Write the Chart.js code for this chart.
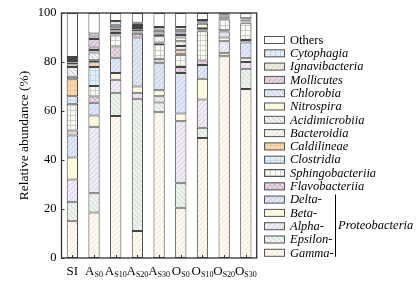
<!DOCTYPE html>
<html>
<head>
<meta charset="utf-8">
<script src="https://cdn.jsdelivr.net/npm/chart.js@4.4.0/dist/chart.umd.min.js"></script>
<style>
  html, body { margin: 0; padding: 0; background: #fff; }
</style>
</head>
<body>
<canvas id="c" width="420" height="283"></canvas>
<script>
// sample labels: main letter + subscript
const catMain = ['SI', 'A', 'A', 'A', 'A', 'O', 'O', 'O', 'O'];
const catSub  = ['', 'S0', 'S10', 'S20', 'S30', 'S0', 'S10', 'S20', 'S30'];

// relative abundance (%), bottom of the stack first
const gamma   = [15, 18.6, 58, 11, 59.5, 20.5, 49, 82.3, 69];
const epsilon = [8, 7.8, 9.5, 54, 4, 10, 4.2, 1.5, 8.2];
const alpha   = [9, 27.2, 5.3, 2.5, 2.5, 25.3, 11.5, 4.7, 2.8];
const beta    = [9, 4.6, 2.7, 2.5, 2.5, 3.2, 8.5, 1.5, 1.5];
const delta   = [9, 5.2, 6.2, 20, 11, 16.5, 5.6, 2.4, 6.5];
const flavo   = [2, 2.5, 4.6, 1.5, 1.8, 2.5, 1.8, 0.6, 1];
const sphingo = [11, 4.3, 4.5, 0.5, 6, 5, 12, 4.4, 6.8];
const clostr  = [3, 7.8, 0.3, 0.3, 0.4, 0.4, 0.3, 0.2, 0.2];
const caldil  = [7, 1.9, 0.2, 0.2, 0.3, 1.6, 0.3, 0.2, 0.2];
const bactero = [1, 0.8, 0.5, 0.6, 2.5, 1.5, 0.3, 0.3, 0.2];
const acidim  = [4, 3.2, 0.6, 0.3, 0.5, 2, 0.5, 0.3, 0.2];
const nitros  = [1, 1, 0.5, 0.5, 0.3, 1.5, 1.6, 0.2, 0.2];
const chlorob = [0.8, 1, 0.8, 0.8, 0.3, 1, 0.5, 0.4, 0.4];
const mollic  = [0.6, 3.5, 0.5, 0.4, 1.2, 1, 0.3, 0.3, 0.2];
const ignav   = [0.8, 1, 1, 0.5, 0.5, 1, 0.3, 0.3, 0.2];
const cytoph  = [0.8, 1.2, 1.5, 0.4, 1, 1.3, 0.4, 0.3, 0.3];
const others  = [18, 8.4, 3.3, 4, 5.7, 5.7, 2.9, 0.1, 2.1];

const yTicks = [0, 20, 40, 60, 80, 100];

const serif = "'Liberation Serif', 'Times New Roman', serif";

// small repeating hatch tiles
function hatch(base, line, kind) {
    const s = 5;
    const c = document.createElement('canvas');
    c.width = s; c.height = s;
    const g = c.getContext('2d');
    g.fillStyle = base;
    g.fillRect(0, 0, s, s);
    g.strokeStyle = line;
    g.lineWidth = 0.8;
    g.beginPath();
    if (kind === '/' || kind === 'x') {
        g.moveTo(-1, s + 1); g.lineTo(s + 1, -1);
        g.moveTo(-1, 1); g.lineTo(1, -1);
        g.moveTo(s - 1, s + 1); g.lineTo(s + 1, s - 1);
    }
    if (kind === '\\' || kind === 'x') {
        g.moveTo(-1, -1); g.lineTo(s + 1, s + 1);
        g.moveTo(s - 1, -1); g.lineTo(s + 1, 1);
        g.moveTo(-1, s - 1); g.lineTo(1, s + 1);
    }
    if (kind === '+') {
        g.moveTo(0.5, 0); g.lineTo(0.5, s);
        g.moveTo(0, 0.5); g.lineTo(s, 0.5);
    }
    if (kind === '|') {
        g.moveTo(0.5, 0); g.lineTo(0.5, s);
    }
    g.stroke();
    return g.createPattern(c, 'repeat');
}

const series = [
    { name: 'Gamma-',           data: gamma,   fill: hatch('#fdf8f0', '#efe0c6', '/') },
    { name: 'Epsilon-',         data: epsilon, fill: hatch('#ecf3ec', '#c4d4c8', '\\') },
    { name: 'Alpha-',           data: alpha,   fill: hatch('#f1ebf6', '#cdc0e2', '/') },
    { name: 'Beta-',            data: beta,    fill: '#fcf9de' },
    { name: 'Delta-',           data: delta,   fill: hatch('#dfe7f6', '#b7c6e5', '/') },
    { name: 'Flavobacteriia',   data: flavo,   fill: hatch('#ead8e7', '#c6a6c2', 'x') },
    { name: 'Sphingobacteriia', data: sphingo, fill: hatch('#fafaf5', '#c2c2b8', '+') },
    { name: 'Clostridia',       data: clostr,  fill: hatch('#e2effa', '#b8d4ec', '+') },
    { name: 'Caldilineae',      data: caldil,  fill: hatch('#f9dab0', '#efc28e', '+') },
    { name: 'Bacteroidia',      data: bactero, fill: hatch('#f5f7ee', '#d6d9c8', '/') },
    { name: 'Acidimicrobiia',   data: acidim,  fill: hatch('#f1f2f6', '#bbbdca', '\\') },
    { name: 'Nitrospira',       data: nitros,  fill: '#fcfae0' },
    { name: 'Chlorobia',        data: chlorob, fill: hatch('#e5eaf4', '#b8c3db', '\\') },
    { name: 'Mollicutes',       data: mollic,  fill: hatch('#e6d1e2', '#c5a3bf', '/') },
    { name: 'Ignavibacteria',   data: ignav,   fill: hatch('#eceadf', '#d2cebd', '/') },
    { name: 'Cytophagia',       data: cytoph,  fill: hatch('#e0edf8', '#b0cde6', '|') },
    { name: 'Others',           data: others,  fill: '#ffffff' }
];

const decor = {
    id: 'decor',
    afterDraw(chart) {
        const { ctx, chartArea: a, scales: { x, y } } = chart;
        ctx.save();

        // frame round the plot
        ctx.strokeStyle = '#333';
        ctx.lineWidth = 1.3;
        ctx.strokeRect(a.left, a.top, a.right - a.left, a.bottom - a.top);

        // inward tick marks
        ctx.lineWidth = 1;
        yTicks.forEach(v => {
            const py = Math.round(y.getPixelForValue(v)) + 0.5;
            ctx.beginPath(); ctx.moveTo(a.left, py); ctx.lineTo(a.left + 3, py); ctx.stroke();
        });
        catMain.forEach((_, i) => {
            const px = Math.round(x.getPixelForValue(i)) + 0.5;
            ctx.beginPath(); ctx.moveTo(px, a.bottom); ctx.lineTo(px, a.bottom - 3); ctx.stroke();
        });

        // x labels with subscripts
        ctx.fillStyle = '#000';
        ctx.textAlign = 'left';
        ctx.textBaseline = 'alphabetic';
        catMain.forEach((m, i) => {
            const px = x.getPixelForValue(i);
            ctx.font = '13px ' + serif;
            const w1 = ctx.measureText(m).width;
            ctx.font = '8px ' + serif;
            const w2 = catSub[i] ? ctx.measureText(catSub[i]).width : 0;
            const sx = px - (w1 + w2) / 2;
            ctx.font = '13px ' + serif;
            ctx.fillText(m, sx, 275);
            if (catSub[i]) {
                ctx.font = '8px ' + serif;
                ctx.fillText(catSub[i], sx + w1, 277);
            }
        });

        // legend, top row = last dataset
        const rowH = 13.3, top = 40;
        ctx.textBaseline = 'middle';
        chart.data.datasets.slice().reverse().forEach((ds, k) => {
            const cy = top + k * rowH;
            ctx.fillStyle = ds.backgroundColor;
            ctx.fillRect(264, cy - 4, 21, 8);
            ctx.strokeStyle = '#555';
            ctx.lineWidth = 1;
            ctx.strokeRect(264.5, cy - 3.5, 20, 7);
            ctx.fillStyle = '#000';
            ctx.font = (ds.label === 'Others' ? '' : 'italic ') + '12.5px ' + serif;
            ctx.fillText(ds.label, 290, cy + 0.5);
        });

        // Proteobacteria bracket
        ctx.strokeStyle = '#000';
        ctx.lineWidth = 1;
        ctx.beginPath();
        ctx.moveTo(335.5, top + 12 * rowH - 5);
        ctx.lineTo(335.5, top + 16 * rowH + 4);
        ctx.stroke();
        ctx.font = 'italic 12.5px ' + serif;
        ctx.fillText('Proteobacteria', 338, top + 14 * rowH);

        ctx.restore();
    }
};

new Chart(document.getElementById('c'), {
    type: 'bar',
    data: {
        labels: catMain.map((m, i) => m + catSub[i]),
        datasets: series.map(s => ({
            label: s.name,
            data: s.data,
            backgroundColor: s.fill,
            borderColor: '#444',
            borderWidth: 1,
            borderSkipped: false,
            barPercentage: 0.52,
            categoryPercentage: 1
        }))
    },
    options: {
        responsive: false,
        animation: false,
        devicePixelRatio: 1,
        layout: { padding: { left: 0, top: 13, right: 163.3, bottom: 0 } },
        plugins: {
            legend: { display: false },
            tooltip: { enabled: false }
        },
        scales: {
            x: {
                stacked: true,
                grid: { display: false },
                border: { display: false },
                ticks: { display: false },
                afterFit: s => { s.height = 25; }
            },
            y: {
                stacked: true,
                min: 0,
                max: 100,
                grid: { display: false, drawTicks: false },
                border: { display: false },
                ticks: {
                    stepSize: 20,
                    padding: 5,
                    color: '#000',
                    font: { family: serif, size: 12.5 }
                },
                title: {
                    display: true,
                    text: 'Relative abundance (%)',
                    color: '#000',
                    font: { family: serif, size: 13.5 },
                    padding: { top: 16, bottom: 0 }
                },
                afterFit: s => { s.width = 61.5; }
            }
        }
    },
    plugins: [decor]
});
</script>
</body>
</html>
